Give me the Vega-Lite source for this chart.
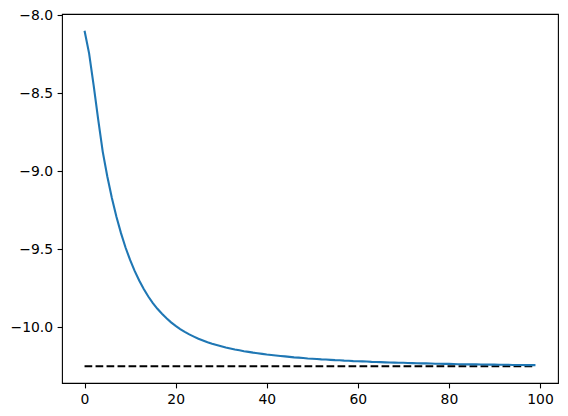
{
  "$schema": "https://vega.github.io/schema/vega-lite/v6.json",
  "width": 496,
  "height": 369,
  "autosize": {"type": "none"},
  "padding": {"left": 62, "top": 14, "right": 10, "bottom": 33},
  "background": "white",
  "config": {
    "view": {"stroke": "black", "strokeWidth": 1.1},
    "axis": {
      "grid": false,
      "domain": false,
      "ticks": true,
      "tickColor": "black",
      "tickWidth": 1.1,
      "tickSize": 4.9,
      "labelFont": "DejaVu Sans",
      "labelFontSize": 13.9,
      "labelColor": "black",
      "labelPadding": 4.5,
      "title": null
    }
  },
  "datasets": {
    "curve": [
      {"x": 0, "y": -8.100}, {"x": 1, "y": -8.245}, {"x": 2, "y": -8.450}, {"x": 3, "y": -8.670},
      {"x": 4, "y": -8.876}, {"x": 5, "y": -9.034}, {"x": 6, "y": -9.172}, {"x": 7, "y": -9.292},
      {"x": 8, "y": -9.397}, {"x": 9, "y": -9.489}, {"x": 10, "y": -9.569}, {"x": 11, "y": -9.639},
      {"x": 12, "y": -9.701}, {"x": 13, "y": -9.755}, {"x": 14, "y": -9.803}, {"x": 15, "y": -9.845},
      {"x": 16, "y": -9.882}, {"x": 17, "y": -9.914}, {"x": 18, "y": -9.943}, {"x": 19, "y": -9.969},
      {"x": 20, "y": -9.991}, {"x": 21, "y": -10.012}, {"x": 22, "y": -10.030}, {"x": 23, "y": -10.046},
      {"x": 24, "y": -10.060}, {"x": 25, "y": -10.074}, {"x": 26, "y": -10.085}, {"x": 27, "y": -10.096},
      {"x": 28, "y": -10.106}, {"x": 29, "y": -10.114}, {"x": 30, "y": -10.122}, {"x": 31, "y": -10.130},
      {"x": 32, "y": -10.136}, {"x": 33, "y": -10.143}, {"x": 34, "y": -10.148}, {"x": 35, "y": -10.154},
      {"x": 36, "y": -10.158}, {"x": 37, "y": -10.163}, {"x": 38, "y": -10.167}, {"x": 39, "y": -10.171},
      {"x": 40, "y": -10.175}, {"x": 41, "y": -10.178}, {"x": 42, "y": -10.181}, {"x": 43, "y": -10.184},
      {"x": 44, "y": -10.187}, {"x": 45, "y": -10.190}, {"x": 46, "y": -10.193}, {"x": 47, "y": -10.195},
      {"x": 48, "y": -10.197}, {"x": 49, "y": -10.200}, {"x": 50, "y": -10.202}, {"x": 51, "y": -10.204},
      {"x": 52, "y": -10.206}, {"x": 53, "y": -10.207}, {"x": 54, "y": -10.209}, {"x": 55, "y": -10.211},
      {"x": 56, "y": -10.212}, {"x": 57, "y": -10.214}, {"x": 58, "y": -10.215}, {"x": 59, "y": -10.217},
      {"x": 60, "y": -10.218}, {"x": 61, "y": -10.219}, {"x": 62, "y": -10.220}, {"x": 63, "y": -10.222},
      {"x": 64, "y": -10.223}, {"x": 65, "y": -10.224}, {"x": 66, "y": -10.225}, {"x": 67, "y": -10.226},
      {"x": 68, "y": -10.227}, {"x": 69, "y": -10.228}, {"x": 70, "y": -10.228}, {"x": 71, "y": -10.229},
      {"x": 72, "y": -10.230}, {"x": 73, "y": -10.231}, {"x": 74, "y": -10.232}, {"x": 75, "y": -10.232},
      {"x": 76, "y": -10.233}, {"x": 77, "y": -10.234}, {"x": 78, "y": -10.234}, {"x": 79, "y": -10.235},
      {"x": 80, "y": -10.235}, {"x": 81, "y": -10.236}, {"x": 82, "y": -10.237}, {"x": 83, "y": -10.237},
      {"x": 84, "y": -10.238}, {"x": 85, "y": -10.238}, {"x": 86, "y": -10.238}, {"x": 87, "y": -10.239},
      {"x": 88, "y": -10.239}, {"x": 89, "y": -10.240}, {"x": 90, "y": -10.240}, {"x": 91, "y": -10.241},
      {"x": 92, "y": -10.241}, {"x": 93, "y": -10.241}, {"x": 94, "y": -10.242}, {"x": 95, "y": -10.242},
      {"x": 96, "y": -10.242}, {"x": 97, "y": -10.243}, {"x": 98, "y": -10.243}, {"x": 99, "y": -10.243}
    ],
    "baseline": [
      {"x": 0, "x2": 99, "y": -10.25}
    ]
  },
  "layer": [
    {
      "data": {"name": "baseline"},
      "mark": {"type": "rule", "color": "black", "strokeWidth": 2.1, "strokeDash": [7.7, 3.3]},
      "encoding": {
        "x": {"field": "x", "type": "quantitative"},
        "x2": {"field": "x2"},
        "y": {"field": "y", "type": "quantitative"}
      }
    },
    {
      "data": {"name": "curve"},
      "mark": {"type": "line", "color": "#1f77b4", "strokeWidth": 2.1},
      "encoding": {
        "x": {
          "field": "x", "type": "quantitative",
          "scale": {"domain": [-4.95, 103.95], "nice": false, "zero": false},
          "axis": {"values": [0, 20, 40, 60, 80, 100], "format": "d"}
        },
        "y": {
          "field": "y", "type": "quantitative",
          "scale": {"domain": [-10.3575, -7.9925], "nice": false, "zero": false},
          "axis": {"values": [-10, -9.5, -9, -8.5, -8], "format": ".1f"}
        }
      }
    }
  ]
}
